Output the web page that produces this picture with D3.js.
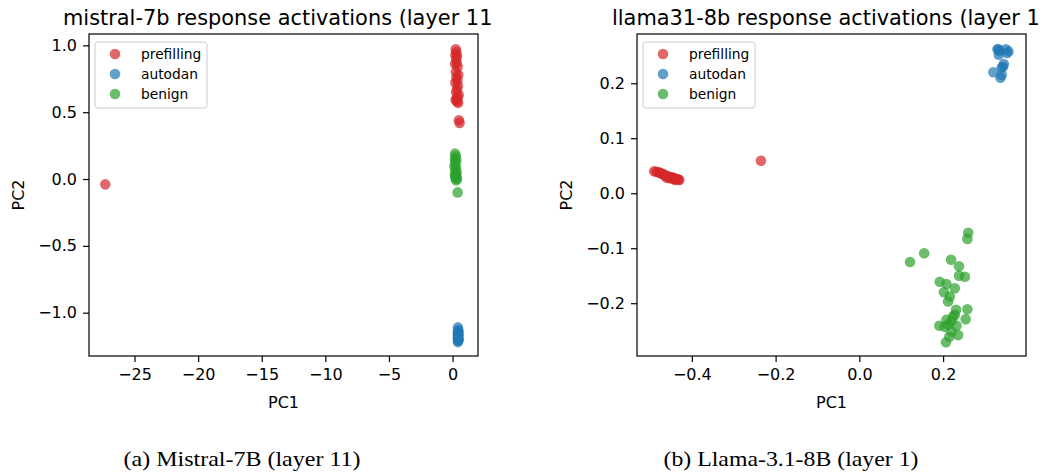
<!DOCTYPE html>
<html>
<head>
<meta charset="utf-8">
<script src="https://cdn.jsdelivr.net/npm/d3@7/dist/d3.min.js"></script>
<style>
  body { margin: 0; background: #fff; }
  text { font-family: "DejaVu Sans", sans-serif; fill: #000; }
  .caption { font-family: "Liberation Serif", "Times New Roman", serif; }
</style>
</head>
<body>
<svg id="fig" width="1048" height="473"></svg>
<script>
// series names and colours (matplotlib tab10)
var seriesNames = ["prefilling", "autodan", "benign"];
var seriesColors = ["#d62728", "#1f77b4", "#2ca02c"];

// mistral-7b, layer 11: [PC1, PC2]
var mistralPrefilling = [
  [0.25, 0.97], [0.30, 0.95], [0.22, 0.93], [0.35, 0.92], [0.28, 0.90], [0.20, 0.86],
  [0.33, 0.87], [0.40, 0.84], [0.26, 0.80], [0.45, 0.78], [0.30, 0.76], [0.38, 0.74],
  [0.22, 0.72], [0.42, 0.70], [0.35, 0.67], [0.28, 0.65], [0.48, 0.63], [0.40, 0.61],
  [0.25, 0.59], [0.36, 0.58], [0.44, 0.57], [0.30, 0.60], [0.50, 0.44], [0.55, 0.42],
  [-27.3, -0.04]
];
var mistralAutodan = [
  [0.42, -1.11], [0.45, -1.13], [0.40, -1.15], [0.48, -1.16], [0.43, -1.17], [0.46, -1.18],
  [0.41, -1.19], [0.47, -1.20], [0.44, -1.21], [0.42, -1.22], [0.46, -1.20], [0.45, -1.14]
];
var mistralBenign = [
  [0.20, 0.19], [0.25, 0.17], [0.18, 0.15], [0.30, 0.14], [0.22, 0.12], [0.15, 0.10],
  [0.28, 0.09], [0.20, 0.07], [0.32, 0.05], [0.25, 0.04], [0.18, 0.03], [0.30, 0.02],
  [0.22, 0.01], [0.35, 0.00], [0.28, -0.01], [0.40, -0.10]
];

// llama31-8b, layer 1: [PC1, PC2]
var llamaPrefilling = [
  [-0.490, 0.040], [-0.485, 0.039], [-0.480, 0.038], [-0.476, 0.037], [-0.472, 0.036],
  [-0.468, 0.034], [-0.465, 0.033], [-0.462, 0.032], [-0.458, 0.031], [-0.455, 0.030],
  [-0.452, 0.029], [-0.448, 0.029], [-0.445, 0.028], [-0.442, 0.027], [-0.438, 0.026],
  [-0.435, 0.026], [-0.432, 0.025], [-0.430, 0.024], [-0.460, 0.028], [-0.450, 0.027],
  [-0.440, 0.024], [-0.235, 0.059]
];
var llamaAutodan = [
  [0.330, 0.262], [0.335, 0.258], [0.333, 0.252], [0.350, 0.262], [0.356, 0.258],
  [0.353, 0.255], [0.345, 0.235], [0.343, 0.230], [0.340, 0.228], [0.320, 0.220],
  [0.337, 0.210], [0.340, 0.215], [0.332, 0.262]
];
var llamaBenign = [
  [0.260, -0.072], [0.258, -0.083], [0.155, -0.109], [0.121, -0.125], [0.219, -0.121],
  [0.238, -0.133], [0.238, -0.150], [0.252, -0.152], [0.192, -0.161], [0.208, -0.165],
  [0.228, -0.173], [0.202, -0.180], [0.216, -0.188], [0.212, -0.197], [0.231, -0.212],
  [0.258, -0.211], [0.228, -0.221], [0.254, -0.229], [0.208, -0.230], [0.220, -0.233],
  [0.191, -0.241], [0.204, -0.243], [0.212, -0.239], [0.232, -0.241], [0.220, -0.252],
  [0.236, -0.258], [0.215, -0.261], [0.207, -0.271], [0.224, -0.224]
];

// tick values
var mistralXTicks = [-25, -20, -15, -10, -5, 0];
var mistralYTicks = [-1.0, -0.5, 0.0, 0.5, 1.0];
var llamaXTicks = [-0.4, -0.2, 0.0, 0.2];
var llamaYTicks = [-0.2, -0.1, 0.0, 0.1, 0.2];

var svg = d3.select("#fig");

function drawPanel(opt) {
  var g = svg.append("g");
  var x = d3.scaleLinear().domain(opt.xDomain).range([opt.left, opt.right]);
  var y = d3.scaleLinear().domain(opt.yDomain).range([opt.bottom, opt.top]);

  // axes
  var xAxis = g.append("g")
    .attr("transform", "translate(0," + opt.bottom + ")")
    .call(d3.axisBottom(x).tickValues(opt.xTicks).tickFormat(d3.format(opt.xFmt)).tickSize(6).tickPadding(7));
  var yAxis = g.append("g")
    .attr("transform", "translate(" + opt.left + ",0)")
    .call(d3.axisLeft(y).tickValues(opt.yTicks).tickFormat(d3.format(opt.yFmt)).tickSize(6).tickPadding(6));
  [xAxis, yAxis].forEach(function (a) {
    a.select(".domain").remove();
    a.selectAll("text").style("font-family", "DejaVu Sans").style("font-size", "16px").attr("fill", "#000");
    a.selectAll("line").attr("stroke", "#000").attr("stroke-width", 1.2);
  });

  // points
  var all = [opt.series[0], opt.series[1], opt.series[2]];
  all.forEach(function (pts, i) {
    g.append("g").selectAll("circle")
      .data(pts).enter().append("circle")
      .attr("cx", function (d) { return x(d[0]); })
      .attr("cy", function (d) { return y(d[1]); })
      .attr("r", 5.3)
      .attr("fill", seriesColors[i])
      .attr("fill-opacity", 0.7);
  });

  // frame
  g.append("rect")
    .attr("x", opt.left).attr("y", opt.top)
    .attr("width", opt.right - opt.left).attr("height", opt.bottom - opt.top)
    .attr("fill", "none").attr("stroke", "#000").attr("stroke-width", 1.2);

  // legend
  var lg = g.append("g").attr("transform", "translate(" + (opt.left + 6) + "," + (opt.top + 8) + ")");
  lg.append("rect").attr("width", 112).attr("height", 66).attr("rx", 3)
    .attr("fill", "#fff").attr("fill-opacity", 0.8).attr("stroke", "#cccccc").attr("stroke-width", 1);
  seriesNames.forEach(function (name, i) {
    lg.append("circle").attr("cx", 20).attr("cy", 12 + i * 20).attr("r", 5.3)
      .attr("fill", seriesColors[i]).attr("fill-opacity", 0.7);
    lg.append("text").attr("x", 46).attr("y", 17 + i * 20)
      .style("font-size", "13.8px").text(name);
  });

  // labels
  g.append("text").attr("x", opt.titleX).attr("y", 25)
    .style("font-size", "20.9px").text(opt.title);
  g.append("text").attr("x", (opt.left + opt.right) / 2).attr("y", 408)
    .attr("text-anchor", "middle").style("font-size", "16px").text("PC1");
  g.append("text")
    .attr("transform", "translate(" + opt.ylabX + "," + ((opt.top + opt.bottom) / 2) + ") rotate(-90)")
    .attr("text-anchor", "middle").style("font-size", "16px").text("PC2");
  g.append("text").attr("class", "caption")
    .attr("x", opt.capX).attr("y", 466).attr("text-anchor", "middle")
    .attr("textLength", opt.capW).attr("lengthAdjust", "spacingAndGlyphs")
    .style("font-size", "22px").text(opt.caption);
}

drawPanel({
  left: 89, right: 478, top: 34, bottom: 356,
  xDomain: [-28.58, 2.0], yDomain: [-1.324, 1.085],
  xTicks: mistralXTicks, yTicks: mistralYTicks, xFmt: "d", yFmt: ".1f",
  series: [mistralPrefilling, mistralAutodan, mistralBenign],
  title: "mistral-7b response activations (layer 11", titleX: 63,
  ylabX: 24, caption: "(a) Mistral-7B (layer 11)", capX: 242, capW: 237
});

drawPanel({
  left: 637, right: 1026, top: 34, bottom: 356,
  xDomain: [-0.531, 0.398], yDomain: [-0.296, 0.2896],
  xTicks: llamaXTicks, yTicks: llamaYTicks, xFmt: ".1f", yFmt: ".1f",
  series: [llamaPrefilling, llamaAutodan, llamaBenign],
  title: "llama31-8b response activations (layer 1", titleX: 612,
  ylabX: 572, caption: "(b) Llama-3.1-8B (layer 1)", capX: 791, capW: 255
});
</script>
</body>
</html>
